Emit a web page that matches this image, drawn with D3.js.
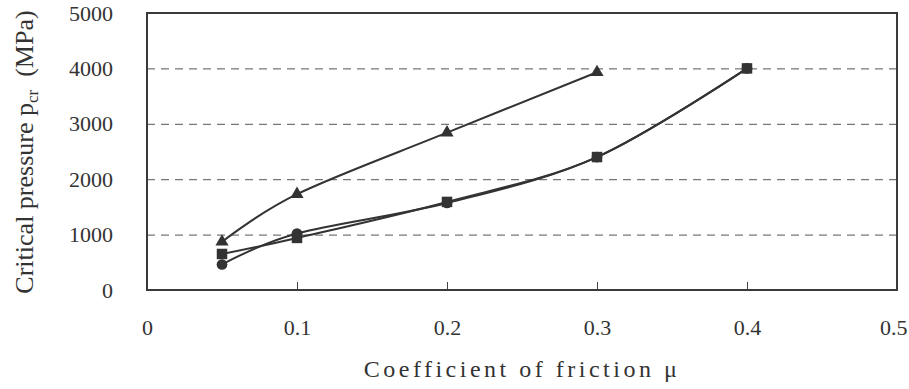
<!DOCTYPE html>
<html>
<head>
<meta charset="utf-8">
<script src="https://cdn.jsdelivr.net/npm/d3@7"></script>
<style>
  body { margin: 0; background: #fff; }
  svg text { font-family: "Liberation Serif", "Times New Roman", serif !important; fill: #333; }
</style>
</head>
<body>
<div id="chart"></div>
<script>
// friction coefficient values
var muValues = [0.05, 0.1, 0.2, 0.3, 0.4];

// critical pressure (MPa) per series
var triangleSeries = [870, 1730, 2840, 3930];
var circleSeries = [460, 1020, 1570, 2400, 4000];
var squareSeries = [650, 940, 1590, 2400, 4000];

var xTicks = [0, 0.1, 0.2, 0.3, 0.4, 0.5];
var yTicks = [0, 1000, 2000, 3000, 4000, 5000];

var serif = "Liberation Serif";

LineChart = function(_parentElement) {
  this.parentElement = _parentElement;
  this.initVis();
};

LineChart.prototype.initVis = function() {
  var vis = this;

  vis.margin = { top: 13, right: 12, bottom: 99, left: 147 };
  vis.width = 909 - vis.margin.left - vis.margin.right;
  vis.height = 389 - vis.margin.top - vis.margin.bottom;

  vis.svg = d3.select("#" + vis.parentElement).append("svg")
    .attr("width", 909)
    .attr("height", 389)
    .append("g")
    .attr("transform", "translate(" + vis.margin.left + "," + vis.margin.top + ")");

  vis.x = d3.scaleLinear().domain([0, 0.5]).range([0, vis.width]);
  vis.y = d3.scaleLinear().domain([0, 5000]).range([vis.height, 0]);

  // dashed gridlines
  vis.svg.append("g")
    .attr("class", "grid")
    .call(d3.axisLeft(vis.y).tickValues(yTicks.slice(1, 5)).tickSize(-vis.width).tickFormat(""))
    .call(function(g) {
      g.select(".domain").remove();
      g.selectAll("line").attr("stroke", "#555").attr("stroke-dasharray", "8,6");
    });

  // x axis, ticks pointing inward
  vis.svg.append("g")
    .attr("transform", "translate(0," + vis.height + ")")
    .call(d3.axisBottom(vis.x).tickValues(xTicks).tickSize(-8).tickPadding(29)
      .tickFormat(function(d) { return d === 0 ? "0" : d3.format(".1f")(d); }))
    .attr("font-family", serif)
    .call(function(g) {
      g.select(".domain").remove();
      g.selectAll("line").attr("stroke", "#444");
      g.selectAll("text").attr("font-family", serif).attr("font-size", "22px").attr("fill", "#333");
      // last label sits against the page edge
      g.selectAll("text").filter(function(d) { return d === 0.5; })
        .attr("text-anchor", "end").attr("dx", "10");
    });

  // y axis labels
  vis.svg.append("g")
    .call(d3.axisLeft(vis.y).tickValues(yTicks).tickSize(0).tickPadding(34).tickFormat(d3.format("d")))
    .attr("font-family", serif)
    .call(function(g) {
      g.select(".domain").remove();
      g.selectAll("text").attr("font-family", serif).attr("font-size", "22px").attr("fill", "#333");
    });

  // frame
  vis.svg.append("rect")
    .attr("width", vis.width)
    .attr("height", vis.height)
    .attr("fill", "none")
    .attr("stroke", "#3a3a3a")
    .attr("stroke-width", 2);

  vis.line = d3.line()
    .curve(d3.curveCatmullRom.alpha(0))
    .x(function(d) { return vis.x(d.mu); })
    .y(function(d) { return vis.y(d.p); });

  vis.series = [
    { key: "triangle", values: triangleSeries },
    { key: "circle", values: circleSeries },
    { key: "square", values: squareSeries }
  ].map(function(s) {
    return {
      key: s.key,
      points: s.values.map(function(v, i) { return { mu: muValues[i], p: v }; })
    };
  });

  vis.updateVis();
};

LineChart.prototype.updateVis = function() {
  var vis = this;

  var groups = vis.svg.selectAll(".series")
    .data(vis.series)
    .enter().append("g")
    .attr("class", "series");

  groups.append("path")
    .attr("fill", "none")
    .attr("stroke", "#333")
    .attr("stroke-width", 2)
    .attr("d", function(d) { return vis.line(d.points); });

  var symbols = {
    triangle: d3.symbol().type(d3.symbolTriangle).size(75),
    circle: d3.symbol().type(d3.symbolCircle).size(90),
    square: d3.symbol().type(d3.symbolSquare).size(110)
  };

  groups.each(function(s) {
    d3.select(this).selectAll(".marker")
      .data(s.points)
      .enter().append("path")
      .attr("class", "marker")
      .attr("fill", "#333")
      .attr("transform", function(d) {
        return "translate(" + vis.x(d.mu) + "," + vis.y(d.p) + ")";
      })
      .attr("d", symbols[s.key]);
  });

  // axis titles
  var root = d3.select("#" + vis.parentElement).select("svg");

  root.append("text")
    .attr("x", vis.margin.left + vis.width / 2)
    .attr("y", 377)
    .attr("text-anchor", "middle")
    .attr("font-size", "24px")
    .attr("letter-spacing", "3.5px")
    .text("Coefficient of friction μ");

  var yTitle = root.append("text")
    .attr("transform", "translate(33,152) rotate(-90)")
    .attr("text-anchor", "middle")
    .attr("font-size", "26px");
  yTitle.append("tspan").text("Critical pressure p");
  yTitle.append("tspan").attr("font-size", "17px").attr("dy", "5").text("cr");
  yTitle.append("tspan").attr("dy", "-5").text("\u00a0\u00a0(MPa)");
};

var chart = new LineChart("chart");
</script>
</body>
</html>
